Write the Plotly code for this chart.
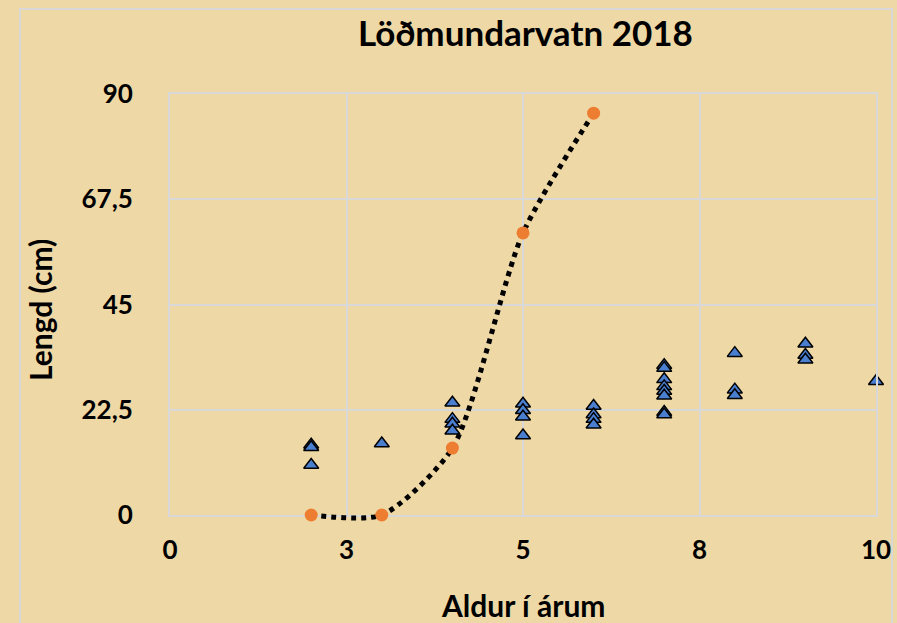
import plotly.graph_objects as go

# --- data ---
fish_age = [2, 2, 2, 3, 4, 4, 4, 4, 5, 5, 5, 5, 6, 6, 6, 6,
            7, 7, 7, 7, 7, 7, 7, 7, 8, 8, 8, 9, 9, 9, 10]
fish_length = [15.0, 14.5, 10.7, 15.3, 24.0, 20.5, 19.5, 18.0, 23.8, 22.4, 21.0, 17.0,
               23.3, 21.5, 20.5, 19.3, 32.0, 31.4, 29.0, 27.5, 26.5, 25.5, 22.0, 21.5,
               34.6, 26.8, 25.6, 36.6, 34.2, 33.2, 28.6]
curve_age = [2, 3, 4, 5, 6]
curve_length = [0, 0, 14.3, 60.3, 85.9]

x_tickvals = [0, 2.5, 5, 7.5, 10]
x_ticktext = ["0", "3", "5", "8", "10"]
y_tickvals = [0, 22.5, 45, 67.5, 90]
y_ticktext = ["0", "22,5", "45", "67,5", "90"]

title_text = "Löðmundarvatn 2018"
x_title = "Aldur í árum"
y_title = "Lengd (cm)"

FONT = "Lato"
BG = "#EED8A5"
GRID = "#D8D8D8"

# main plot area: y from 94 to 515 px; curve layer extends 18 px lower
EXT = 18 / 439.0
Y2_MIN = -90 * 18 / 421.0

fig = go.Figure()
fig.add_trace(go.Scatter(
    x=fish_age, y=fish_length, mode="markers", xaxis="x", yaxis="y",
    marker=dict(symbol="triangle-up", size=13, color="#4A7ECF",
                line=dict(color="black", width=1.5)),
    showlegend=False, cliponaxis=False))
fig.add_trace(go.Scatter(
    x=curve_age, y=curve_length, mode="lines+markers", xaxis="x2", yaxis="y2",
    line=dict(color="black", width=5, dash="dot", shape="spline", smoothing=0.7),
    marker=dict(symbol="circle", size=13, color="#ED7D31"),
    showlegend=False, cliponaxis=False))

fig.update_layout(
    width=897, height=623,
    paper_bgcolor=BG, plot_bgcolor="rgba(0,0,0,0)",
    margin=dict(l=170, r=21, t=94, b=90, autoexpand=False),
    font=dict(family=FONT, color="black"),
    showlegend=False,
    xaxis=dict(domain=[0, 1], range=[0, 10], anchor="y", automargin=False,
               tickvals=x_tickvals, ticktext=x_ticktext,
               showgrid=True, gridcolor=GRID, gridwidth=2, zeroline=False,
               showline=True, mirror=True, linecolor=GRID, linewidth=2,
               ticks="outside", ticklen=11, tickcolor="rgba(0,0,0,0)",
               tickfont=dict(size=26, family=FONT, weight="bold")),
    yaxis=dict(domain=[EXT, 1], range=[0, 90], anchor="x", automargin=False,
               tickvals=y_tickvals, ticktext=y_ticktext,
               showgrid=True, gridcolor=GRID, gridwidth=2, zeroline=False,
               showline=True, mirror=True, linecolor=GRID, linewidth=2,
               ticks="outside", ticklen=30, tickcolor="rgba(0,0,0,0)",
               tickfont=dict(size=26, family=FONT, weight="bold")),
    xaxis2=dict(domain=[0, 1], range=[0, 10], anchor="y2", visible=False,
                automargin=False),
    yaxis2=dict(domain=[0, 1], range=[Y2_MIN, 90], anchor="x2", visible=False,
                automargin=False),
    shapes=[dict(type="rect", xref="paper", yref="paper",
                 x0=-0.2125, x1=1.0227, y0=-0.5, y1=1.1936,
                 line=dict(color=GRID, width=2), layer="below")],
    annotations=[
        dict(text="<b>" + title_text + "</b>", xref="paper", yref="paper",
             x=0.503, y=1.141, yanchor="middle", showarrow=False,
             font=dict(size=35, family=FONT)),
        dict(text="<b>" + x_title + "</b>", xref="paper", yref="paper",
             x=0.5, y=-0.164, yanchor="middle", showarrow=False,
             font=dict(size=30, family=FONT)),
        dict(text="<b>" + y_title + "</b>", xref="paper", yref="paper",
             x=-0.184, y=0.508, textangle=-90, xanchor="center", yanchor="middle",
             showarrow=False, font=dict(size=30, family=FONT)),
    ],
)

fig.write_html(
    "out.html",
    config={"displayModeBar": False},
    post_script="document.body.style.margin='0';document.body.style.backgroundColor='#EED8A5';",
)
